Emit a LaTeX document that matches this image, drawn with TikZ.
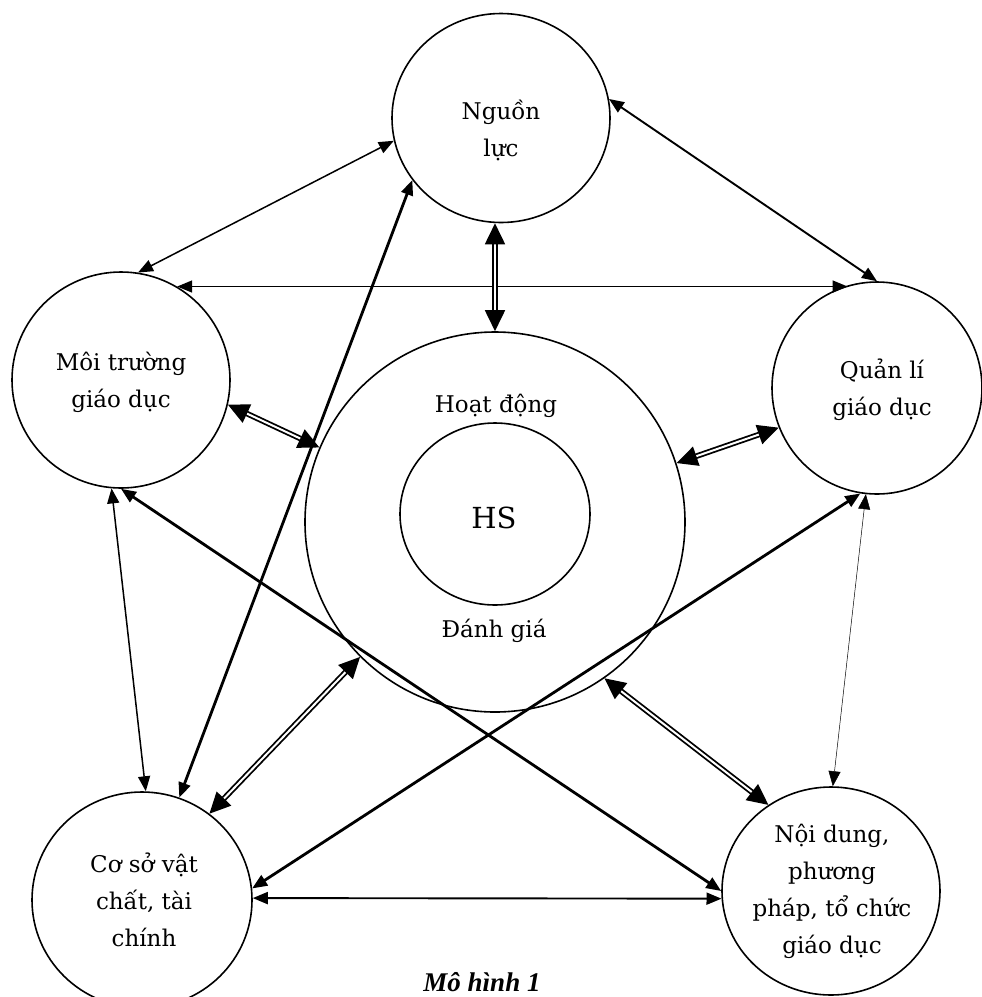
\documentclass[tikz,border=0pt]{standalone}
\usepackage{fontspec}
\setmainfont{DejaVu Serif}
\newfontfamily\capfont{Liberation Serif}
\usetikzlibrary{arrows.meta,shapes.geometric}
\tikzset{
  bub/.style={draw,ellipse,line width=1.6pt,inner sep=0pt},
  txt/.style={inner sep=0pt,align=center,font=\fontsize{23}{37}\selectfont},
  tipA/.tip={Triangle[length=15pt,width=12pt]},
  tipB/.tip={Triangle[length=21pt,width=20pt]},
  lnthin/.style={line width=1.5pt,tipA-tipA},
  lnmed/.style={line width=1.9pt,tipA-tipA},
  lnthick/.style={line width=2.8pt,tipA-tipA},
  lnhair/.style={line width=0.5pt,tipA-tipA},
  lndbl/.style={line width=1.8pt,double=white,double distance=2pt,tipB-tipB}
}
\begin{document}
\begin{tikzpicture}[x=1pt,y=-1pt]
\useasboundingbox (0,0) rectangle (982,997);
% circles
\node[bub,minimum width=218pt,minimum height=209pt] (N) at (501,118) {};
\node[bub,minimum width=218pt,minimum height=216pt] (M) at (121,380) {};
\node[bub,minimum width=210pt,minimum height=212pt] (Q) at (877,388) {};
\node[bub,minimum width=220pt,minimum height=216pt] (C) at (142,900) {};
\node[bub,minimum width=218pt,minimum height=208pt] (D) at (831,891) {};
\node[bub,minimum width=380pt,minimum height=380pt] (H) at (495,522) {};
\node[bub,minimum width=190pt,minimum height=182pt] (S) at (495,514) {};
% texts
\node[txt] (Nt) at (501,130) {Nguồn\\lực};
\node[txt] (Mt) at (121,382) {Môi trường\\giáo dục};
\node[txt] (Qt) at (882,390) {Quản lí\\giáo dục};
\node[txt] (Ct) at (144,900) {Cơ sở vật\\chất, tài\\chính};
\node[txt] (Dt) at (832,891) {Nội dung,\\phương\\pháp, tổ chức\\giáo dục};
\node[txt,anchor=base] (Ht) at (496,412) {Hoạt động};
\node[txt,anchor=base] (Et) at (494,637) {Đánh giá};
\node[inner sep=0pt,anchor=base,font=\fontsize{29}{34}\selectfont] (St) at (494,528) {HS};
\node[inner sep=0pt,anchor=base,font=\capfont\bfseries\itshape\fontsize{27}{32}\selectfont] (cap) at (482,991) {Mô hình 1};
% connectors
\draw[lnthin] (N.192) -- (M.81);
\draw[lnthin] (M.59) -- (Q.106 |- M.59);
\draw[lnmed] (N.10) -- (Q.90);
\draw[lndbl] (N.south -| H.north) -- (H.north);
\draw[lnthick] (N.215) -- (C.70);
\draw[lndbl] (M.347) -- (H.157);
\draw[lndbl] (Q.202) -- (H.18);
\draw[lnthick] (M.270) -- (D.180);
\draw[lnthick] (C.6) -- (Q.261);
\draw[lnmed] (C.1) -- (D.184);
\draw[lnthin] (M.265) -- (C.88);
\draw[lndbl] (C.52) -- (H.225);
\draw[lndbl] (D.126) -- (H.305);
\draw[lnhair] (Q.264) -- (D.89);
\end{tikzpicture}
\end{document}
